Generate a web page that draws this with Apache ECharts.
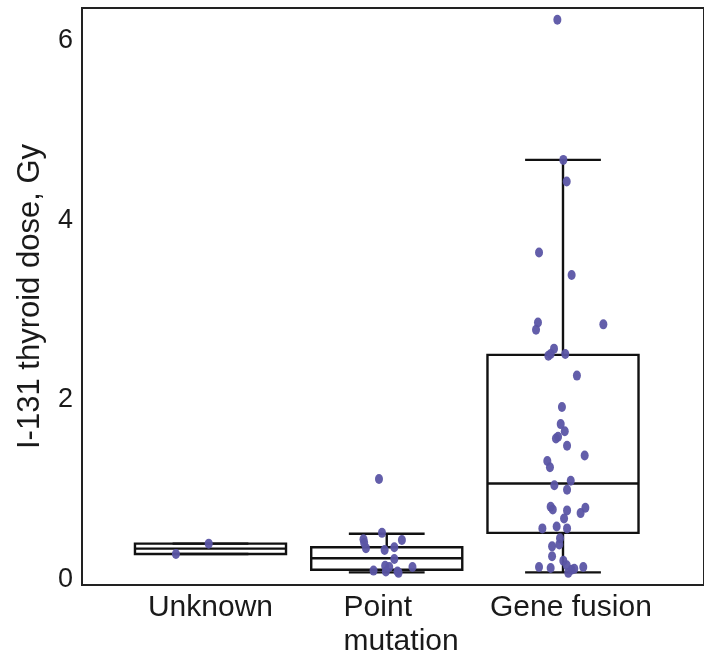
<!DOCTYPE html>
<html>
<head>
<meta charset="utf-8">
<script src="https://cdn.jsdelivr.net/npm/echarts@6/dist/echarts.min.js"></script>
<style>
  html, body { margin: 0; padding: 0; background: #fff; }
  #chart { width: 704px; height: 657px; }
</style>
</head>
<body>
<div id="chart"></div>
<script>
// groups on the x axis (value 1,2,3)
var categories = ['Unknown', 'Point mutation', 'Gene fusion'];
var yTicks = [0, 2, 4, 6];

// box stats: [lower whisker, Q1, median, Q3, upper whisker]
var boxUnknown = [0.285, 0.285, 0.345, 0.40, 0.40];
var boxPoint = [0.08, 0.11, 0.237, 0.36, 0.51];
var boxFusion = [0.08, 0.52, 1.07, 2.50, 4.67];

// jittered points: [offset from group centre, dose Gy]
var ptsUnknown = [[-0.01, 0.40], [-0.196, 0.285]];
var ptsPoint = [
  [-0.044, 1.12], [-0.027, 0.52], [-0.132, 0.45], [-0.128, 0.41], [0.086, 0.44],
  [-0.118, 0.35], [0.043, 0.36], [-0.012, 0.33], [0.043, 0.23], [-0.075, 0.10],
  [-0.009, 0.155], [0.014, 0.14], [-0.005, 0.09], [0.061, 0.09], [0.067, 0.075],
  [0.146, 0.14]
];
var ptsFusion = [
  [-0.032, 6.23], [0.002, 4.67], [0.021, 4.43], [-0.136, 3.64], [0.049, 3.39],
  [-0.142, 2.86], [-0.153, 2.78], [0.229, 2.84], [-0.051, 2.57], [-0.083, 2.49],
  [-0.070, 2.51], [0.013, 2.51], [0.079, 2.27], [-0.006, 1.92], [-0.013, 1.73],
  [0.010, 1.65], [-0.028, 1.59], [-0.040, 1.57], [0.023, 1.49], [0.123, 1.38],
  [-0.089, 1.32], [-0.074, 1.25], [0.044, 1.10], [-0.049, 1.05], [0.023, 1.00],
  [-0.070, 0.81], [-0.058, 0.78], [0.023, 0.77], [0.127, 0.80], [0.100, 0.74],
  [0.006, 0.68], [-0.117, 0.57], [-0.036, 0.59], [0.023, 0.57], [-0.017, 0.46],
  [-0.062, 0.37], [-0.021, 0.39], [-0.062, 0.26], [0.002, 0.21], [-0.136, 0.14],
  [-0.070, 0.13], [0.021, 0.16], [0.049, 0.11], [0.030, 0.075], [0.115, 0.14],
  [0.064, 0.12]
];

var boxes = [boxUnknown, boxPoint, boxFusion];
var groups = [ptsUnknown, ptsPoint, ptsFusion];

var boxData = boxes.map(function (b, i) { return [i + 1].concat(b); });
var scatterData = [];
groups.forEach(function (g, i) {
  g.forEach(function (p) { scatterData.push([i + 1 + p[0], p[1]]); });
});

var BOX_W = 0.857, CAP_W = 0.43;
var lineStyle = { stroke: '#111', lineWidth: 2.4, fill: null };
var FONT = 'Liberation Sans, Arial, sans-serif';

function renderBox(params, api) {
  var x = api.value(0);
  var lo = api.coord([x, api.value(1)]);
  var q1 = api.coord([x, api.value(2)]);
  var md = api.coord([x, api.value(3)]);
  var q3 = api.coord([x, api.value(4)]);
  var hi = api.coord([x, api.value(5)]);
  var hw = api.size([BOX_W, 0])[0] / 2;
  var cw = api.size([CAP_W, 0])[0] / 2;
  var cx = lo[0];
  function seg(x1, y1, x2, y2) {
    return { type: 'line', shape: { x1: x1, y1: y1, x2: x2, y2: y2 }, style: lineStyle };
  }
  var kids = [
    seg(cx, hi[1], cx, q3[1]),
    seg(cx, q1[1], cx, lo[1]),
    seg(cx - cw, hi[1], cx + cw, hi[1]),
    seg(cx - cw, lo[1], cx + cw, lo[1]),
    { type: 'rect', shape: { x: cx - hw, y: q3[1], width: hw * 2, height: q1[1] - q3[1] }, style: lineStyle },
    seg(cx - hw, md[1], cx + hw, md[1])
  ];
  return { type: 'group', children: kids };
}

var chart = echarts.init(document.getElementById('chart'));
chart.setOption({
  animation: false,
  grid: {
    left: 82, right: 0, top: 8, bottom: 72,
    outerBoundsMode: 'none',
    containLabel: false,
    show: true, borderColor: '#222', borderWidth: 2, backgroundColor: 'transparent'
  },
  xAxis: {
    type: 'value',
    min: 0.271, max: 3.8,
    splitLine: { show: false },
    axisTick: { show: false },
    axisLine: { show: false },
    axisLabel: {
      customValues: [1, 2.09, 3.045],
      fontFamily: FONT,
      fontSize: 30,
      lineHeight: 34,
      color: '#1a1a1a',
      margin: 6,
      formatter: function (v) {
        var i = Math.round(v) - 1;
        if (i === 1) return '{l|Point}\n{l|mutation}';
        return categories[i];
      },
      rich: {
        l: { width: 118, align: 'left', fontSize: 30, lineHeight: 34, color: '#1a1a1a', fontFamily: FONT }
      }
    }
  },
  yAxis: {
    type: 'value',
    min: -0.06, max: 6.36,
    name: 'I-131 thyroid dose, Gy',
    nameLocation: 'middle',
    nameGap: 36,
    nameTextStyle: { fontFamily: FONT, fontSize: 31, color: '#1a1a1a' },
    splitLine: { show: false },
    axisTick: { show: false },
    axisLine: { show: false },
    axisLabel: {
      customValues: yTicks,
      fontFamily: FONT,
      fontSize: 27,
      color: '#1a1a1a',
      margin: 9
    }
  },
  series: [
    {
      type: 'custom',
      renderItem: renderBox,
      data: boxData,
      encode: { x: 0, y: [1, 2, 3, 4, 5] },
      z: 2
    },
    {
      type: 'scatter',
      data: scatterData,
      symbol: 'circle',
      symbolSize: [8, 10],
      itemStyle: { color: '#5b55a5', opacity: 0.95 },
      z: 3
    }
  ]
});
</script>
</body>
</html>
